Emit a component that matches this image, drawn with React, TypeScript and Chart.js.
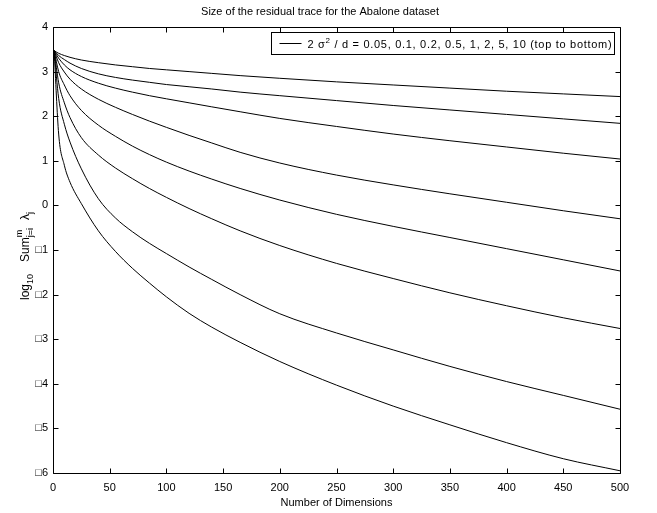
import React, { useEffect, useRef } from 'react';
import { Chart, registerables } from 'chart.js';

Chart.register(...registerables);

const FONT = '"Liberation Sans", Arial, Helvetica, sans-serif';

const chartTitle = 'Size of the residual trace for the Abalone dataset';
const xAxisTitle = 'Number of Dimensions';
const legendPre = '2 σ';
const legendSup = '2';
const legendPost = ' / d = 0.05, 0.1, 0.2, 0.5, 1, 2, 5, 10 (top to bottom)';

const xTicks = [0, 50, 100, 150, 200, 250, 300, 350, 400, 450, 500];
const yTicks = [-6, -5, -4, -3, -2, -1, 0, 1, 2, 3, 4];

const dims = [1, 5, 10, 15, 25, 40, 55, 70, 85, 100, 120, 140, 165, 200, 250, 300, 350, 400, 450, 500];

const s005 = [3.47, 3.41, 3.36, 3.32, 3.26, 3.2, 3.15, 3.11, 3.07, 3.04, 3.0, 2.96, 2.91, 2.85, 2.77, 2.7, 2.63, 2.56, 2.5, 2.44];
const s01 = [3.47, 3.36, 3.27, 3.19, 3.07, 2.95, 2.87, 2.81, 2.76, 2.71, 2.66, 2.61, 2.54, 2.46, 2.35, 2.24, 2.14, 2.04, 1.94, 1.84];
const s02 = [3.47, 3.3, 3.15, 3.04, 2.89, 2.74, 2.63, 2.54, 2.46, 2.39, 2.3, 2.21, 2.1, 1.95, 1.77, 1.6, 1.45, 1.31, 1.17, 1.04];
const s05 = [3.47, 3.2, 2.99, 2.83, 2.61, 2.38, 2.2, 2.04, 1.89, 1.75, 1.57, 1.4, 1.19, 0.95, 0.68, 0.46, 0.26, 0.07, -0.12, -0.3];
const s1 = [3.47, 3.0, 2.7, 2.46, 2.13, 1.8, 1.55, 1.33, 1.14, 0.97, 0.77, 0.59, 0.38, 0.12, -0.2, -0.47, -0.72, -0.97, -1.22, -1.47];
const s2 = [3.47, 2.75, 2.3, 1.97, 1.52, 1.13, 0.84, 0.6, 0.38, 0.18, -0.07, -0.3, -0.57, -0.9, -1.3, -1.64, -1.96, -2.25, -2.52, -2.76];
const s5 = [3.47, 2.4, 1.82, 1.42, 0.82, 0.15, -0.28, -0.59, -0.85, -1.08, -1.38, -1.66, -2.0, -2.43, -2.86, -3.24, -3.61, -3.95, -4.26, -4.57];
const s10 = [3.47, 1.6, 0.9, 0.52, 0.04, -0.57, -1.03, -1.41, -1.74, -2.05, -2.42, -2.73, -3.07, -3.5, -4.03, -4.5, -4.92, -5.32, -5.68, -5.95];

const seriesLabels = ['0.05', '0.1', '0.2', '0.5', '1', '2', '5', '10'];
const seriesValues = [s005, s01, s02, s05, s1, s2, s5, s10];

const framePlugin = {
  id: 'matlabFrame',
  afterDatasetsDraw(chart: any) {
    const { ctx, chartArea, scales } = chart;
    const { left, right, top, bottom } = chartArea;
    const xs = scales.x;
    const ys = scales.y;
    ctx.save();
    ctx.strokeStyle = '#000';
    ctx.lineWidth = 1;
    const L = Math.round(left) + 0.5;
    const R = Math.round(right) + 0.5;
    const T = Math.round(top) + 0.5;
    const B = Math.round(bottom) + 0.5;
    ctx.beginPath();
    ctx.rect(L, T, R - L, B - T);
    ctx.stroke();
    const tl = 5;
    ctx.beginPath();
    for (const v of yTicks) {
      const py = Math.round(ys.getPixelForValue(v)) + 0.5;
      ctx.moveTo(L, py); ctx.lineTo(L + tl, py);
      ctx.moveTo(R, py); ctx.lineTo(R - tl, py);
    }
    for (const v of xTicks) {
      const px = Math.round(xs.getPixelForValue(v)) + 0.5;
      ctx.moveTo(px, B); ctx.lineTo(px, B - tl);
      ctx.moveTo(px, T); ctx.lineTo(px, T + tl);
    }
    ctx.stroke();

    // title
    ctx.fillStyle = '#000';
    ctx.font = `11px ${FONT}`;
    ctx.textAlign = 'center';
    ctx.textBaseline = 'alphabetic';
    ctx.fillText(chartTitle, 320, 15);

    // legend
    ctx.textAlign = 'left';
    const ls = '0.7px';
    ctx.letterSpacing = ls;
    ctx.font = `11px ${FONT}`;
    const w1 = ctx.measureText(legendPre).width;
    const w3 = ctx.measureText(legendPost).width;
    ctx.font = `8px ${FONT}`;
    const w2 = ctx.measureText(legendSup).width;
    const textW = w1 + w2 + w3;
    const boxR = Math.round(right) - 6 + 0.5;
    const boxL = Math.round(boxR - (36 + textW + 3)) + 0.5;
    const boxT = 32.5;
    const boxB = 54.5;
    ctx.fillStyle = '#fff';
    ctx.fillRect(boxL, boxT, boxR - boxL, boxB - boxT);
    ctx.strokeStyle = '#000';
    ctx.lineWidth = 1;
    ctx.strokeRect(boxL, boxT, boxR - boxL, boxB - boxT);
    ctx.beginPath();
    ctx.moveTo(boxL + 8, 43.5);
    ctx.lineTo(boxL + 30, 43.5);
    ctx.stroke();
    ctx.fillStyle = '#000';
    const tx = boxL + 36;
    ctx.font = `11px ${FONT}`;
    ctx.fillText(legendPre, tx, 48);
    ctx.font = `8px ${FONT}`;
    ctx.fillText(legendSup, tx + w1, 43);
    ctx.font = `11px ${FONT}`;
    ctx.fillText(legendPost, tx + w1 + w2, 48);
    ctx.letterSpacing = '0px';

    // y-axis label: log_10 Sum^m_{j=i} lambda_j
    ctx.save();
    ctx.translate(29, 300);
    ctx.rotate(-Math.PI / 2);
    ctx.textAlign = 'left';
    ctx.textBaseline = 'alphabetic';
    let cx = 0;
    const put = (t: string, size: number, dy: number) => {
      ctx.font = `${size}px ${FONT}`;
      ctx.fillText(t, cx, dy);
      return ctx.measureText(t).width;
    };
    cx += put('log', 12, 0);
    cx += put('10', 9, 4);
    cx += 12;
    cx += put('Sum', 12, 0);
    const wm = put('m', 9, -7);
    const wj = put('j=i', 9, 4);
    cx += Math.max(wm, wj);
    cx += 8;
    cx += put('λ', 12, 0);
    put('j', 9, 4);
    ctx.restore();

    ctx.restore();
  },
};

export default function App() {
  const ref = useRef<HTMLCanvasElement | null>(null);
  useEffect(() => {
    if (!ref.current) return;
    const chart = new Chart(ref.current, {
      type: 'line',
      data: {
        datasets: seriesValues.map((vals, i) => ({
          label: seriesLabels[i],
          data: dims.map((d, j) => ({ x: d, y: vals[j] })),
          borderColor: '#000',
          backgroundColor: '#000',
          borderWidth: 1,
          pointRadius: 0,
          fill: false,
          cubicInterpolationMode: 'monotone' as const,
        })),
      },
      options: {
        responsive: false,
        animation: false,
        events: [],
        layout: { padding: { top: 27, right: 37, left: 0, bottom: 0 } },
        plugins: {
          legend: { display: false },
          title: { display: false },
          tooltip: { enabled: false },
        },
        scales: {
          x: {
            type: 'linear',
            min: 0,
            max: 500,
            ticks: {
              stepSize: 50,
              color: '#000',
              font: { family: FONT, size: 11 },
              padding: 8,
              maxRotation: 0,
              autoSkip: false,
            },
            grid: { display: false, drawTicks: false },
            border: { display: false },
            title: {
              display: true,
              text: xAxisTitle,
              color: '#000',
              font: { family: FONT, size: 11 },
              padding: { top: 0, bottom: 3 },
            },
            afterFit(scale: any) {
              scale.height = 40;
            },
          },
          y: {
            type: 'linear',
            min: -6,
            max: 4,
            ticks: {
              stepSize: 1,
              color: '#000',
              font: { family: FONT, size: 11 },
              padding: 5,
              callback: (v: any) => (Number(v) < 0 ? '\u25A1' + String(-Number(v)) : String(v)),
            },
            grid: { display: false, drawTicks: false },
            border: { display: false },
            afterFit(scale: any) {
              scale.width = 53;
            },
          },
        },
      },
      plugins: [framePlugin],
    });
    return () => chart.destroy();
  }, []);
  return (
    <div style={{ position: 'fixed', left: 0, top: 0, width: 657, height: 513, background: '#fff' }}>
      <canvas ref={ref} width={657} height={513} style={{ display: 'block' }} />
    </div>
  );
}
